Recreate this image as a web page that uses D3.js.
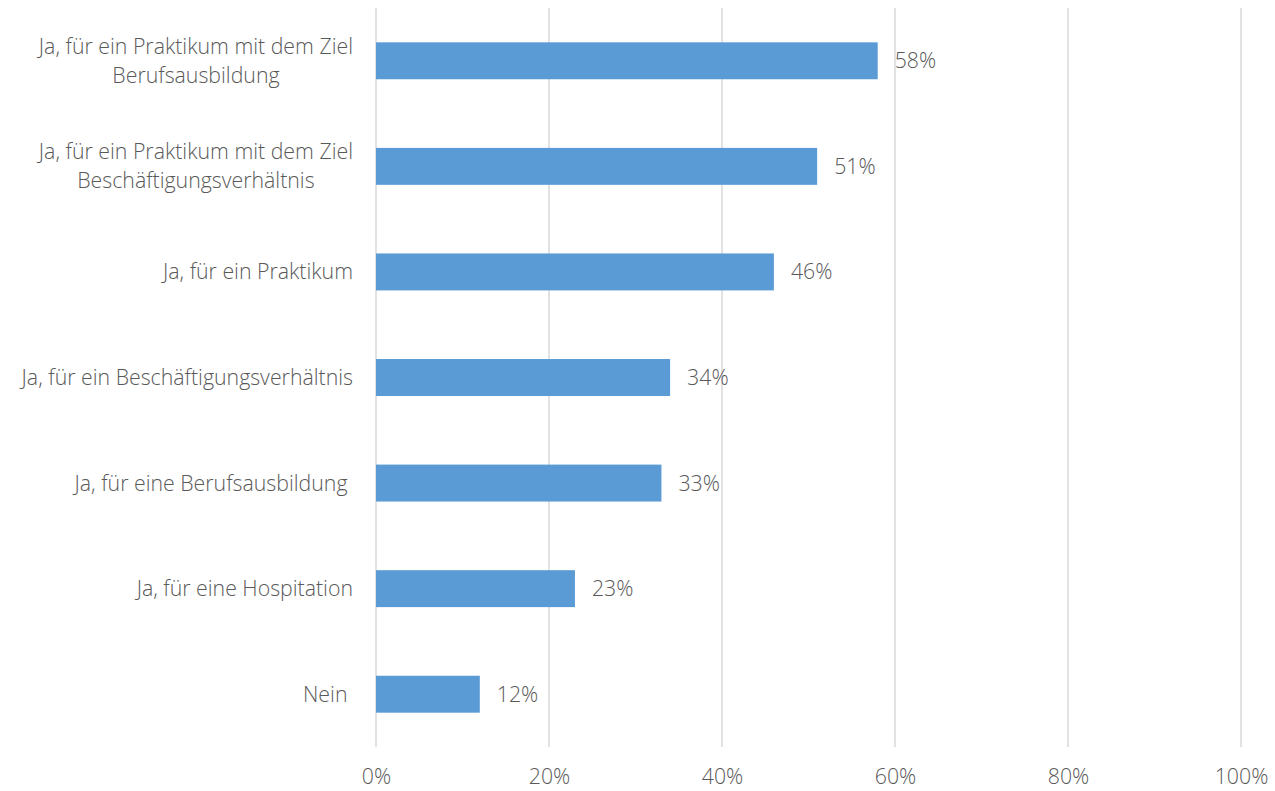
<!DOCTYPE html>
<html>
<head>
<meta charset="utf-8">
<script src="https://cdn.jsdelivr.net/npm/d3@7"></script>
<style>
  html, body { margin: 0; padding: 0; background: #fff; }
  svg { display: block; }
  text { font-family: "Open Sans", "Noto Sans", sans-serif; fill: #595959; font-weight: 300; }
</style>
</head>
<body>
<svg id="chart" width="1275" height="791"></svg>
<script>
// Survey answers (each line of a category label is one entry)
const categories = [
  ["Ja, für ein Praktikum mit dem Ziel", "Berufsausbildung"],
  ["Ja, für ein Praktikum mit dem Ziel", "Beschäftigungsverhältnis"],
  ["Ja, für ein Praktikum"],
  ["Ja, für ein Beschäftigungsverhältnis"],
  ["Ja, für eine Berufsausbildung\u00a0"],
  ["Ja, für eine Hospitation"],
  ["Nein\u00a0"]
];
const values = [58, 51, 46, 34, 33, 23, 12];
const ticks = [0, 20, 40, 60, 80, 100];

const svg = d3.select("#chart");
const margin = { left: 376, right: 34, top: 8, bottom: 44 };
const width = 1275 - margin.left - margin.right;
const height = 791 - margin.top - margin.bottom;
const fontSize = "21.3px";

const g = svg.append("g").attr("transform", `translate(${margin.left},${margin.top})`);

const x = d3.scaleLinear().domain([0, 100]).range([0, width]);
const y = d3.scaleBand()
  .domain(d3.range(categories.length))
  .range([0, height])
  .paddingInner(0.65)
  .paddingOuter(0.325);

// vertical gridlines
g.selectAll("line.grid")
  .data(ticks)
  .join("line")
  .attr("class", "grid")
  .attr("x1", d => x(d)).attr("x2", d => x(d))
  .attr("y1", 0).attr("y2", height)
  .attr("stroke", "#d9d9d9")
  .attr("stroke-width", 1.5);

// bottom tick labels
const xAxis = d3.axisBottom(x).tickValues(ticks).tickSize(0).tickPadding(0)
  .tickFormat(d => d + "%");
const ax = g.append("g").attr("transform", `translate(0,${height})`).call(xAxis);
ax.select(".domain").remove();
ax.selectAll("text")
  .attr("y", 37)
  .attr("dy", 0)
  .style("font-size", fontSize)
  .attr("fill", "#595959");

// bars
g.selectAll("rect.bar")
  .data(values)
  .join("rect")
  .attr("class", "bar")
  .attr("x", x(0))
  .attr("y", (d, i) => y(i))
  .attr("width", d => x(d) - x(0))
  .attr("height", y.bandwidth())
  .attr("fill", "#5b9bd5");

// value labels
g.selectAll("text.val")
  .data(values)
  .join("text")
  .attr("class", "val")
  .attr("x", d => x(d) + 17)
  .attr("y", (d, i) => y(i) + y.bandwidth() / 2)
  .attr("dy", "0.35em")
  .style("font-size", fontSize)
  .text(d => d + "%");

// category labels: lines centred on each other, block right-aligned
const labelRight = -23;
const lineH = 29;
categories.forEach((lines, i) => {
  const cy = y(i) + y.bandwidth() / 2;
  const t = g.append("text")
    .style("font-size", fontSize)
    .attr("text-anchor", "middle");
  const spans = lines.map((ln, k) => t.append("tspan")
    .attr("y", cy + (k - (lines.length - 1) / 2) * lineH)
    .attr("dy", "0.35em")
    .text(ln));
  const widths = spans.map(s => s.node().getComputedTextLength());
  const maxW = d3.max(widths);
  spans.forEach(s => s.attr("x", labelRight - maxW / 2));
});
</script>
</body>
</html>
